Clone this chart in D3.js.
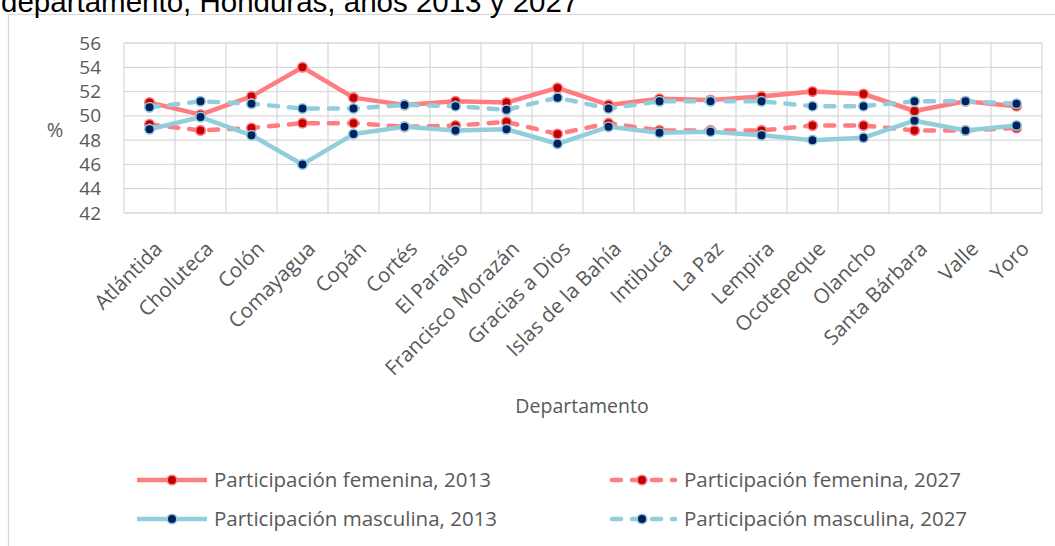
<!DOCTYPE html>
<html>
<head>
<meta charset="utf-8">
<script src="https://cdn.jsdelivr.net/npm/d3@7"></script>
<style>
  body { margin: 0; background: #fff; }
  svg { display: block; }
</style>
</head>
<body>
<div id="graph1"></div>
<script>
// Participación por sexo, por departamento
let departamentos = ["Atlántida", "Choluteca", "Colón", "Comayagua", "Copán", "Cortés", "El Paraíso",
    "Francisco Morazán", "Gracias a Dios", "Islas de la Bahía", "Intibucá", "La Paz", "Lempira",
    "Ocotepeque", "Olancho", "Santa Bárbara", "Valle", "Yoro"];
let fem2013  = [51.1, 50.1, 51.6, 54.0, 51.5, 50.9, 51.2, 51.1, 52.3, 50.9, 51.4, 51.3, 51.6, 52.0, 51.8, 50.4, 51.2, 50.8];
let fem2027  = [49.3, 48.8, 49.0, 49.4, 49.4, 49.1, 49.2, 49.5, 48.5, 49.4, 48.8, 48.8, 48.8, 49.2, 49.2, 48.8, 48.8, 49.0];
let masc2013 = [48.9, 49.9, 48.4, 46.0, 48.5, 49.1, 48.8, 48.9, 47.7, 49.1, 48.6, 48.7, 48.4, 48.0, 48.2, 49.6, 48.8, 49.2];
let masc2027 = [50.7, 51.2, 51.0, 50.6, 50.6, 50.9, 50.8, 50.5, 51.5, 50.6, 51.2, 51.2, 51.2, 50.8, 50.8, 51.2, 51.2, 51.0];
let yTicks = [42, 44, 46, 48, 50, 52, 54, 56];

let series = [
    {name: "Participación femenina, 2013", values: fem2013, line: "#FF7C80", fill: "#C00000", dash: null},
    {name: "Participación femenina, 2027", values: fem2027, line: "#FF7C80", fill: "#C00000", dash: "9,11"},
    {name: "Participación masculina, 2013", values: masc2013, line: "#92CDDC", fill: "#002060", dash: null},
    {name: "Participación masculina, 2027", values: masc2027, line: "#92CDDC", fill: "#002060", dash: "9,11"}
];

let width = 1055, height = 546;
let plot = {left: 124, right: 1042, top: 43, bottom: 213};

let svg = d3.select("#graph1")
    .append("svg")
    .attr("width", width)
    .attr("height", height);

// marco del gráfico
svg.append("rect")
    .attr("x", 8.5).attr("y", 14.5)
    .attr("width", width).attr("height", height)
    .attr("fill", "none")
    .attr("stroke", "#d9d9d9")
    .attr("stroke-width", 1.3);

// título (cortado arriba en el original)
svg.append("text")
    .attr("x", 1).attr("y", 12)
    .style("font-family", "Liberation Sans, Arial")
    .style("font-size", "29.5px")
    .attr("fill", "#000")
    .text("departamento, Honduras, años 2013 y 2027");

let x = d3.scaleBand()
    .domain(departamentos)
    .range([plot.left, plot.right]);

let y = d3.scaleLinear()
    .domain([42, 56])
    .range([plot.bottom, plot.top]);

// cuadrícula
let grid = svg.append("g");
grid.selectAll("line.h").data(yTicks).enter()
    .append("line")
    .attr("x1", plot.left).attr("x2", plot.right)
    .attr("y1", d => y(d)).attr("y2", d => y(d))
    .attr("stroke", "#d9d9d9").attr("stroke-width", 1.3);
grid.selectAll("line.v").data(departamentos.concat(["_end"])).enter()
    .append("line")
    .attr("x1", (d, i) => plot.left + i * x.bandwidth())
    .attr("x2", (d, i) => plot.left + i * x.bandwidth())
    .attr("y1", plot.top).attr("y2", plot.bottom)
    .attr("stroke", "#d9d9d9").attr("stroke-width", 1.3);

// eje y
let yAxis = svg.append("g")
    .attr("transform", `translate(${plot.left - 23},0)`)
    .call(d3.axisLeft(y).tickValues(yTicks).tickSize(0).tickPadding(0));
yAxis.select(".domain").remove();
yAxis.selectAll("text")
    .style("font-family", "Open Sans")
    .style("font-size", "19px")
    .attr("fill", "#595959");

svg.append("text")
    .attr("x", 55).attr("y", 130)
    .attr("dy", "0.35em")
    .style("text-anchor", "middle")
    .style("font-family", "Open Sans")
    .style("font-size", "20px")
    .attr("fill", "#595959")
    .text("%");

// eje x
let xAxis = svg.append("g");
xAxis.selectAll("text").data(departamentos).enter()
    .append("text")
    .attr("transform", d => `translate(${x(d) + x.bandwidth() / 2 + 9},${245}) rotate(-45)`)
    .attr("dy", "0.35em")
    .style("text-anchor", "end")
    .style("font-family", "Open Sans")
    .style("font-size", "20.5px")
    .attr("fill", "#595959")
    .text(d => d);

svg.append("text")
    .attr("x", 582).attr("y", 406)
    .attr("dy", "0.35em")
    .style("text-anchor", "middle")
    .style("font-family", "Open Sans")
    .style("font-size", "19.5px")
    .attr("fill", "#595959")
    .text("Departamento");

// series
let line = d3.line()
    .x((d, i) => x(departamentos[i]) + x.bandwidth() / 2)
    .y(d => y(d));

series.forEach(function(s) {
    let g = svg.append("g");
    g.append("path")
        .datum(s.values)
        .attr("d", line)
        .attr("fill", "none")
        .attr("stroke", s.line)
        .attr("stroke-width", 4.5)
        .attr("stroke-linecap", s.dash ? "round" : "butt")
        .attr("stroke-linejoin", "round")
        .attr("stroke-dasharray", s.dash);
    g.selectAll("circle").data(s.values).enter()
        .append("circle")
        .attr("cx", (d, i) => x(departamentos[i]) + x.bandwidth() / 2)
        .attr("cy", d => y(d))
        .attr("r", 4.8)
        .attr("fill", s.fill)
        .attr("stroke", s.line)
        .attr("stroke-width", 1.6);
});

// leyenda
let legendPos = [{x: 137, y: 480}, {x: 607, y: 480}, {x: 137, y: 519}, {x: 607, y: 519}];
let legend = svg.append("g");
series.forEach(function(s, i) {
    let p = legendPos[i];
    let item = legend.append("g").attr("transform", `translate(${p.x},${p.y})`);
    if (s.dash) {
        item.append("line")
            .attr("x1", 2).attr("x2", 68)
            .attr("stroke", s.line).attr("stroke-width", 4.5)
            .attr("stroke-linecap", "round")
            .attr("stroke-dasharray", "9,11")
            .attr("stroke-dashoffset", -3);
    } else {
        item.append("line")
            .attr("x1", 0).attr("x2", 70)
            .attr("stroke", s.line).attr("stroke-width", 4.5);
    }
    item.append("circle")
        .attr("cx", 35).attr("cy", 0).attr("r", 4.8)
        .attr("fill", s.fill).attr("stroke", s.line).attr("stroke-width", 1.6);
    item.append("text")
        .attr("x", 77).attr("y", 0)
        .attr("dy", "0.35em")
        .style("font-family", "Open Sans")
        .style("font-size", "20.5px")
        .attr("fill", "#595959")
        .text(s.name);
});
</script>
</body>
</html>
